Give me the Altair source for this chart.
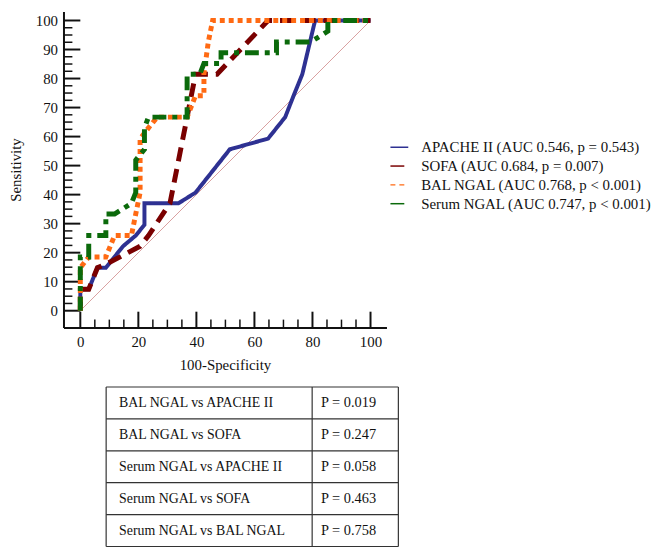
import altair as alt
import pandas as pd

# ---------------- data ----------------
legend_labels = [
    "APACHE II (AUC 0.546, p = 0.543)",
    "SOFA (AUC 0.684, p = 0.007)",
    "BAL NGAL (AUC 0.768, p < 0.001)",
    "Serum NGAL (AUC 0.747, p < 0.001)",
]
colors = ["#2e3192", "#7a0000", "#ff6a13", "#0b6a0b"]
dashes = [[1, 0], [14, 8], [5, 4], [14, 6, 5, 6]]
widths = [4, 5, 5, 5]

apache_x = [0, 0, 2.9, 5.9, 8.8, 14.7, 19.1, 22.1, 22.1, 33.8, 39.7, 51.5, 64.7, 70.6, 73.5, 76.5, 80.9, 100]
apache_y = [0, 7.4, 7.4, 14.8, 14.8, 22.2, 25.9, 29.6, 37.0, 37.0, 40.7, 55.6, 59.3, 66.7, 74.1, 81.5, 100, 100]

sofa_x = [0, 0, 2.9, 5.9, 8.8, 20.6, 23.5, 30.9, 36.8, 39.7, 47.1, 64.7, 100]
sofa_y = [0, 7.4, 7.4, 14.8, 16.0, 22.2, 25.9, 37.0, 66.7, 81.5, 81.5, 100, 100]

bal_x = [0, 0, 2.9, 8.8, 11.8, 17.6, 19.1, 20.6, 20.6, 23.5, 26.5, 36.8, 39.7, 42.6, 42.6, 44.1, 45.6, 100]
bal_y = [0, 14.8, 18.5, 18.5, 25.9, 25.9, 33.3, 40.7, 59.3, 63.0, 66.7, 66.7, 74.1, 74.1, 81.5, 92.6, 100, 100]

serum_x = [0, 0, 2.9, 2.9, 8.8, 8.8, 11.8, 17.6, 19.1, 19.1, 22.1, 22.1, 23.5, 36.8, 36.8, 41.2, 42.6, 48.5, 48.5, 67.6, 67.6, 79.4, 85.3, 85.3, 100]
serum_y = [0, 18.5, 18.5, 25.9, 25.9, 33.3, 33.3, 37.0, 40.7, 51.9, 55.6, 63.0, 66.7, 66.7, 81.5, 81.5, 85.2, 85.2, 88.9, 88.9, 92.6, 92.6, 96.3, 100, 100]

x_label_values = [0, 20, 40, 60, 80, 100]
y_label_values = [0, 10, 20, 30, 40, 50, 60, 70, 80, 90, 100]
x_minor_ticks = [5, 10, 15, 25, 30, 35, 45, 50, 55, 65, 70, 75, 85, 90, 95]
y_minor_ticks = [v + d for v in range(0, 100, 10) for d in (2.5, 5, 7.5)]

comparisons = [
    "BAL NGAL vs APACHE II",
    "BAL NGAL vs SOFA",
    "Serum NGAL vs APACHE II",
    "Serum NGAL vs SOFA",
    "Serum NGAL vs BAL NGAL",
]
p_values = ["P = 0.019", "P = 0.247", "P = 0.058", "P = 0.463", "P = 0.758"]

# ---------------- build tables ----------------
rows = []
for lab, xs, ys in zip(legend_labels,
                       [apache_x, sofa_x, bal_x, serum_x],
                       [apache_y, sofa_y, bal_y, serum_y]):
    for i, (a, b) in enumerate(zip(xs, ys)):
        rows.append({"series": lab, "fpr": a, "sens": b, "idx": i})
df = pd.DataFrame(rows)

FONT = "Liberation Serif"
W, H = 326, 319
XDOM = [-5.8, 105.5]
YDOM = [-5.8, 103.1]

X_ENC = alt.X("fpr:Q", scale=alt.Scale(domain=XDOM, nice=False, zero=False),
              axis=alt.Axis(values=x_label_values, title="100-Specificity", grid=False,
                            ticks=False, labelPadding=7, titlePadding=8,
                            domainColor="#111", domainWidth=2))
Y_ENC = alt.Y("sens:Q", scale=alt.Scale(domain=YDOM, nice=False, zero=False),
              axis=alt.Axis(values=y_label_values, title="Sensitivity", grid=False,
                            ticks=False, labelPadding=6, titlePadding=12,
                            domainColor="#111", domainWidth=2))

LEG = dict(title=None, orient="none", legendX=329, legendY=127,
           symbolType="stroke", symbolSize=324, symbolStrokeWidth=1.5,
           labelOffset=12, rowPadding=1, labelLimit=400)
color_enc = alt.Color("series:N", scale=alt.Scale(domain=legend_labels, range=colors),
                      legend=alt.Legend(**LEG))
dash_enc = alt.StrokeDash("series:N", scale=alt.Scale(domain=legend_labels, range=dashes),
                          legend=alt.Legend(**LEG))

diag = alt.Chart(pd.DataFrame({"fpr": [0], "sens": [0], "fpr2": [100], "sens2": [100]})).mark_rule(
    color="#d9a0a0", strokeWidth=1).encode(x=X_ENC, y=Y_ENC, x2="fpr2:Q", y2="sens2:Q")

line_layers = []
for lab, w in zip(legend_labels, widths):
    line_layers.append(
        alt.Chart(df).transform_filter(alt.datum.series == lab)
        .mark_line(strokeWidth=w, strokeCap="butt", strokeJoin="miter")
        .encode(x=X_ENC, y=Y_ENC, color=color_enc, strokeDash=dash_enc,
                order=alt.Order("idx:Q"))
    )

xt_major = alt.Chart(pd.DataFrame({"fpr": x_label_values})).mark_rule(color="#111", strokeWidth=2).encode(
    x=X_ENC, y=alt.value(H), y2=alt.value(H - 16))
xt_minor = alt.Chart(pd.DataFrame({"fpr": x_minor_ticks})).mark_rule(color="#111", strokeWidth=1.5).encode(
    x=X_ENC, y=alt.value(H), y2=alt.value(H - 8))
yt_major = alt.Chart(pd.DataFrame({"sens": y_label_values})).mark_rule(color="#111", strokeWidth=2).encode(
    y=Y_ENC, x=alt.value(0), x2=alt.value(17))
yt_minor = alt.Chart(pd.DataFrame({"sens": y_minor_ticks})).mark_rule(color="#111", strokeWidth=1.5).encode(
    y=Y_ENC, x=alt.value(0), x2=alt.value(9))

roc = alt.layer(diag, xt_major, xt_minor, yt_major, yt_minor, *line_layers).properties(width=W, height=H)

# ---------------- table ----------------
SPLIT = 0.705
tdf = pd.DataFrame({"row": list(range(5)), "comp": comparisons, "p": p_values,
                    "left": [0.0] * 5, "mid": [SPLIT] * 5})
hlines = pd.DataFrame({"r": list(range(6)), "a": [0.0] * 6, "b": [1.0] * 6})
vlines = pd.DataFrame({"c": [0.0, SPLIT, 1.0], "t": [0] * 3, "u": [5] * 3})

TW, TH = 338, 161
TX = alt.Scale(domain=[-0.146, 1], nice=False, zero=False)
TY = alt.Scale(domain=[0, 5], nice=False, zero=False, reverse=True)

h = alt.Chart(hlines).mark_rule(color="#333", strokeWidth=1.2).encode(
    x=alt.X("a:Q", scale=TX, axis=None), x2="b:Q", y=alt.Y("r:Q", scale=TY, axis=None))
v = alt.Chart(vlines).mark_rule(color="#333", strokeWidth=1.2).encode(
    x=alt.X("c:Q", scale=TX, axis=None), y=alt.Y("t:Q", scale=TY, axis=None), y2="u:Q")
t1 = alt.Chart(tdf).transform_calculate(yc="datum.row + 0.5").mark_text(
    align="left", baseline="middle", dx=13, font=FONT, fontSize=14, color="#111").encode(
    x=alt.X("left:Q", scale=TX, axis=None), y=alt.Y("yc:Q", scale=TY, axis=None), text="comp:N")
t2 = alt.Chart(tdf).transform_calculate(yc="datum.row + 0.5").mark_text(
    align="left", baseline="middle", dx=9, font=FONT, fontSize=14.5, color="#111").encode(
    x=alt.X("mid:Q", scale=TX, axis=None), y=alt.Y("yc:Q", scale=TY, axis=None), text="p:N")

table = alt.layer(h, v, t1, t2).properties(width=TW, height=TH)

chart = alt.vconcat(roc, table, spacing=14).properties(
    padding={"left": 0, "top": 0, "right": 0, "bottom": 0}
).configure_view(stroke=None).configure_axis(
    labelFont=FONT, labelFontSize=15, labelColor="#111",
    titleFont=FONT, titleFontSize=15, titleFontWeight="normal", titleColor="#111"
).configure_legend(labelFont=FONT, labelFontSize=15, labelColor="#111")

chart.save("out.html", embed_options={"renderer": "svg", "actions": False})
